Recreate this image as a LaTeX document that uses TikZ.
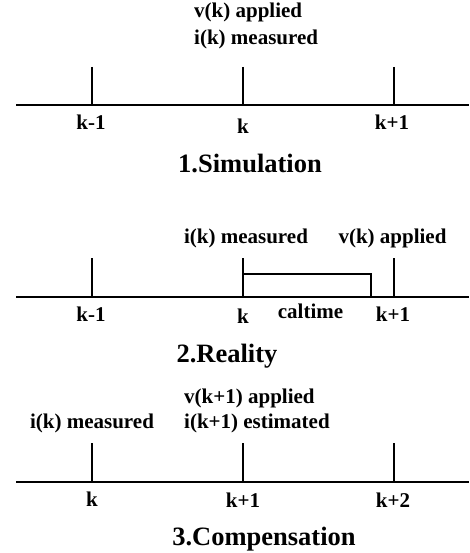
\documentclass[tikz,border=0pt]{standalone}
\usepackage{fontspec}
\setmainfont{Liberation Serif}
\begin{document}
\begin{tikzpicture}[x=1pt,y=-1pt,
  axisline/.style={line width=1.4pt,line cap=butt},
  lbl/.style={font=\fontsize{21}{23}\selectfont\bfseries,inner sep=0pt,anchor=base},
  ttl/.style={font=\fontsize{26.5}{29}\selectfont\bfseries,inner sep=0pt,anchor=base}]
\useasboundingbox (0,0) rectangle (469,553);

% ---------- 1. Simulation ----------
\coordinate (a1l) at (16,105);
\coordinate (a1r) at (469,105);
\draw[axisline] (a1l) -- (a1r);
\foreach \n/\x in {m/92,z/243,p/394}{
  \coordinate (s\n t) at (\x,67);
  \coordinate (s\n b) at (\x,105);
  \draw[axisline] (s\n t) -- (s\n b);
}
\node[lbl] (s1) at (91,130) {k-1};
\node[lbl] (s2) at (243,133.5) {k};
\node[lbl] (s3) at (392,130) {k+1};
\node[lbl,anchor=base west] (sv) at (194,18) {v(k) applied};
\node[lbl,anchor=base west] (si) at (194,45) {i(k) measured};
\node[ttl] (st) at (250,173) {1.Simulation};

% ---------- 2. Reality ----------
\coordinate (a2l) at (16,297);
\coordinate (a2r) at (469,297);
\draw[axisline] (a2l) -- (a2r);
\foreach \n/\x in {m/92,z/243,p/394}{
  \coordinate (r\n t) at (\x,258);
  \coordinate (r\n b) at (\x,297);
  \draw[axisline] (r\n t) -- (r\n b);
}
\coordinate (ct) at (243,274);
\coordinate (cr) at (371,274);
\coordinate (cb) at (371,297);
\draw[line width=1.2pt] (ct) -- (cr) -- (cb);
\node[lbl] (r1) at (91,321) {k-1};
\node[lbl] (r2) at (243,323) {k};
\node[lbl] (r3) at (393,321) {k+1};
\node[lbl] (rc) at (310.5,318) {caltime};
\node[lbl] (ri) at (246,243) {i(k) measured};
\node[lbl] (rv) at (392.5,243) {v(k) applied};
\node[ttl] (rt) at (227,362) {2.Reality};

% ---------- 3. Compensation ----------
\coordinate (a3l) at (16,482);
\coordinate (a3r) at (469,482);
\draw[axisline] (a3l) -- (a3r);
\foreach \n/\x in {m/92,z/243,p/394}{
  \coordinate (c\n t) at (\x,443);
  \coordinate (c\n b) at (\x,482);
  \draw[axisline] (c\n t) -- (c\n b);
}
\node[lbl] (c1) at (92,506) {k};
\node[lbl] (c2) at (243,507) {k+1};
\node[lbl] (c3) at (393,507) {k+2};
\node[lbl] (ci) at (92,428) {i(k) measured};
\node[lbl,anchor=base west] (cv) at (184,403) {v(k+1) applied};
\node[lbl,anchor=base west] (ce) at (184,428) {i(k+1) estimated};
\node[ttl] (ctl) at (264,545) {3.Compensation};
\end{tikzpicture}
\end{document}
